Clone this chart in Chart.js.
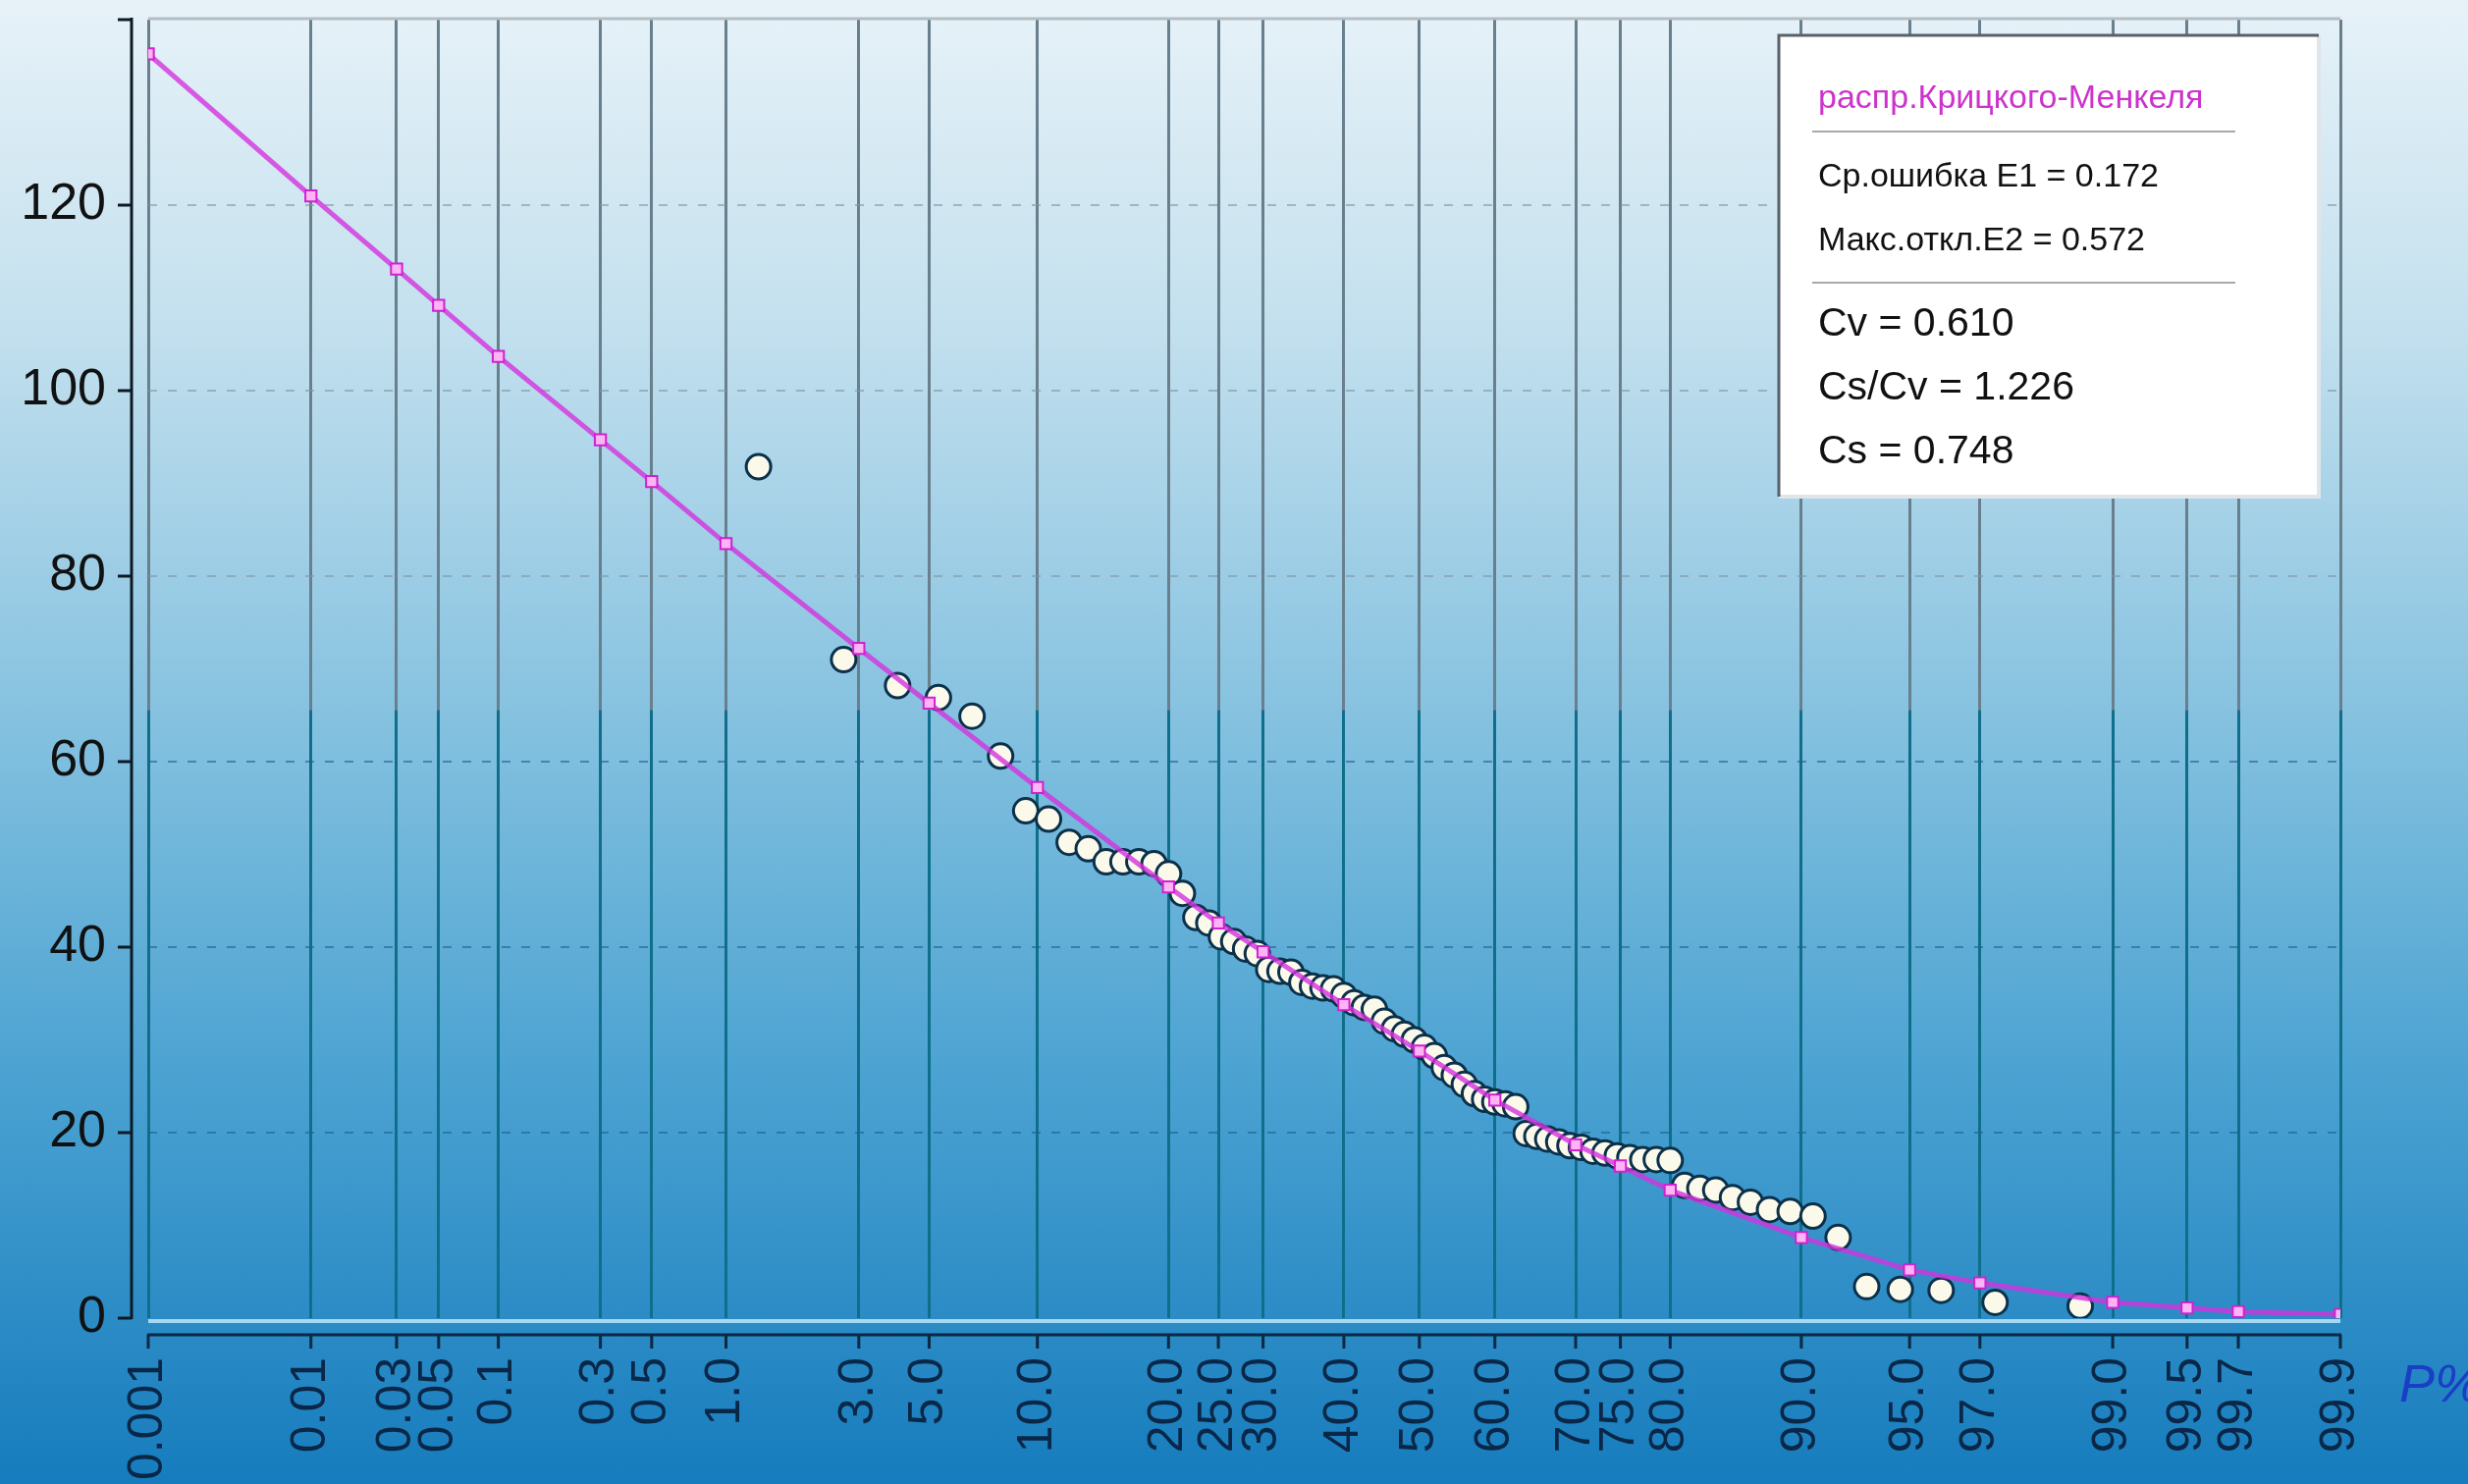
<!DOCTYPE html>
<html>
<head>
<meta charset="utf-8">
<script src="https://cdn.jsdelivr.net/npm/chart.js@4.4.1/dist/chart.umd.min.js"></script>
<style>
  html, body { margin: 0; padding: 0; overflow: hidden; background: #1a7fbf; }
  canvas { display: block; }
</style>
</head>
<body>
<canvas id="c" width="2514" height="1512"></canvas>
<script>
// ---------- DATA ----------
// Probability ticks (P%) and their labels
const tickP = [0.001, 0.01, 0.03, 0.05, 0.1, 0.3, 0.5, 1, 3, 5, 10, 20, 25, 30, 40, 50, 60, 70, 75, 80, 90, 95, 97, 99, 99.5, 99.7, 99.9];
const tickLabels = ['0.001', '0.01', '0.03', '0.05', '0.1', '0.3', '0.5', '1.0', '3.0', '5.0', '10.0', '20.0', '25.0', '30.0', '40.0', '50.0', '60.0', '70.0', '75.0', '80.0', '90.0', '95.0', '97.0', '99.0', '99.5', '99.7', '99.9'];
const yTicks = [0, 20, 40, 60, 80, 100, 120];

// Fitted curve (Kritsky-Menkel distribution)
const curveP = [0.001, 0.01, 0.03, 0.05, 0.1, 0.3, 0.5, 1, 3, 5, 10, 20, 25, 30, 40, 50, 60, 70, 75, 80, 90, 95, 97, 99, 99.5, 99.7, 99.9];
const curveQ = [136.3, 121.0, 113.1, 109.2, 103.7, 94.7, 90.2, 83.5, 72.2, 66.3, 57.2, 46.5, 42.6, 39.5, 33.8, 28.8, 23.5, 18.7, 16.4, 13.8, 8.7, 5.2, 3.8, 1.7, 1.1, 0.7, 0.4];

// Observed values (empirical probability P%, value)
const obsP = [1.33, 2.67, 4.00, 5.33, 6.67, 8.00, 9.33, 10.67, 12.00, 13.33,
  14.67, 16.00, 17.33, 18.67, 20.00, 21.33, 22.67, 24.00, 25.33, 26.67,
  28.00, 29.33, 30.67, 32.00, 33.33, 34.67, 36.00, 37.33, 38.67, 40.00,
  41.33, 42.67, 44.00, 45.33, 46.67, 48.00, 49.33, 50.67, 52.00, 53.33,
  54.67, 56.00, 57.33, 58.67, 60.00, 61.33, 62.67, 64.00, 65.33, 66.67,
  68.00, 69.33, 70.67, 72.00, 73.33, 74.67, 76.00, 77.33, 78.67, 80.00,
  81.33, 82.67, 84.00, 85.33, 86.67, 88.00, 89.33, 90.67, 92.00, 93.33,
  94.67, 96.00, 97.33, 98.67];
const obsQ = [91.8, 71.0, 68.2, 66.9, 64.9, 60.6, 54.7, 53.8, 51.3, 50.6,
  49.2, 49.2, 49.2, 49.0, 47.9, 45.8, 43.2, 42.6, 41.1, 40.6,
  39.8, 39.3, 37.6, 37.4, 37.3, 36.2, 35.8, 35.6, 35.5, 34.8,
  34.0, 33.5, 33.3, 32.0, 31.2, 30.6, 30.0, 29.2, 28.3, 27.0,
  26.2, 25.2, 24.2, 23.6, 23.3, 23.1, 22.8, 19.9, 19.6, 19.3,
  19.0, 18.6, 18.4, 18.0, 17.8, 17.5, 17.3, 17.1, 17.1, 17.0,
  14.3, 14.0, 13.8, 13.0, 12.5, 11.7, 11.5, 11.0, 8.7, 3.4,
  3.1, 3.0, 1.7, 1.3];

// Legend text
const legendTitle = 'распр.Крицкого-Менкеля';
const legendErr = ['Ср.ошибка E1 = 0.172', 'Макс.откл.E2 = 0.572'];
const legendPar = ['Cv = 0.610', 'Cs/Cv = 1.226', 'Cs = 0.748'];
const axisTitleX = 'P%';

// ---------- probability (normal) scale ----------
function probit(p) {
  const a = [-3.969683028665376e+01, 2.209460984245205e+02, -2.759285104469687e+02, 1.383577518672690e+02, -3.066479806614716e+01, 2.506628277459239e+00];
  const b = [-5.447609879822406e+01, 1.615858368580409e+02, -1.556989798598866e+02, 6.680131188771972e+01, -1.328068155288572e+01];
  const c = [-7.784894002430293e-03, -3.223964580411365e-01, -2.400758277161838e+00, -2.549732539343734e+00, 4.374664141464968e+00, 2.938163982698783e+00];
  const d = [7.784695709041462e-03, 3.224671290700398e-01, 2.445134137142996e+00, 3.754408661907416e+00];
  const pl = 0.02425, ph = 1 - pl;
  let q, r;
  if (p < pl) {
    q = Math.sqrt(-2 * Math.log(p));
    return (((((c[0]*q+c[1])*q+c[2])*q+c[3])*q+c[4])*q+c[5]) / ((((d[0]*q+d[1])*q+d[2])*q+d[3])*q+1);
  }
  if (p > ph) {
    q = Math.sqrt(-2 * Math.log(1 - p));
    return -(((((c[0]*q+c[1])*q+c[2])*q+c[3])*q+c[4])*q+c[5]) / ((((d[0]*q+d[1])*q+d[2])*q+d[3])*q+1);
  }
  q = p - 0.5; r = q * q;
  return (((((a[0]*r+a[1])*r+a[2])*r+a[3])*r+a[4])*r+a[5])*q / (((((b[0]*r+b[1])*r+b[2])*r+b[3])*r+b[4])*r+1);
}
function normCdf(z) {
  const t = 1 / (1 + 0.2316419 * Math.abs(z));
  const dd = 0.3989423 * Math.exp(-z * z / 2);
  let p = dd * t * (0.3193815 + t * (-0.3565638 + t * (1.781478 + t * (-1.821256 + t * 1.330274))));
  return z > 0 ? 1 - p : p;
}

class ProbabilityScale extends Chart.Scale {
  parse(raw) { return (raw === null || raw === undefined) ? null : +raw; }
  determineDataLimits() { this.min = this.options.min; this.max = this.options.max; }
  buildTicks() { return tickP.map(v => ({ value: v })); }
  getLabelForValue(v) { return String(v); }
  configure() {
    super.configure();
    this._zMin = probit(this.min / 100);
    this._zMax = probit(this.max / 100);
  }
  getPixelForValue(v) {
    return this.getPixelForDecimal((probit(v / 100) - this._zMin) / (this._zMax - this._zMin));
  }
  getValueForPixel(px) {
    const z = this._zMin + this.getDecimalForPixel(px) * (this._zMax - this._zMin);
    return normCdf(z) * 100;
  }
}
ProbabilityScale.id = 'probability';
ProbabilityScale.defaults = {};
Chart.register(ProbabilityScale);

// ---------- styling helpers ----------
const SPLIT = 723 / 1512;
const gradCache = {};
function splitGrad(chart, key, topCol, botCol) {
  if (gradCache[key]) return gradCache[key];
  const g = chart.ctx.createLinearGradient(0, 0, 0, chart.height);
  g.addColorStop(0, topCol);
  g.addColorStop(SPLIT, topCol);
  g.addColorStop(SPLIT + 0.001, botCol);
  g.addColorStop(1, botCol);
  gradCache[key] = g;
  return g;
}

const FONT = "'Liberation Sans', Arial, sans-serif";

const bgPlugin = {
  id: 'bg',
  beforeDraw(chart) {
    const ctx = chart.ctx;
    const g = ctx.createLinearGradient(0, 0, 0, chart.height);
    g.addColorStop(0, '#e7f2f8');
    g.addColorStop(0.22, '#c3e0ee');
    g.addColorStop(0.48, '#86c2e0');
    g.addColorStop(0.72, '#4ca3d2');
    g.addColorStop(1, '#167cbd');
    ctx.save();
    ctx.fillStyle = g;
    ctx.fillRect(0, 0, chart.width, chart.height);
    ctx.restore();
  }
};

const framePlugin = {
  id: 'frame',
  beforeDatasetsDraw(chart) {
    const ctx = chart.ctx, xs = chart.scales.x, ys = chart.scales.y;
    const left = xs.getPixelForValue(tickP[0]);
    const right = xs.getPixelForValue(tickP[tickP.length - 1]);
    const y0 = ys.getPixelForValue(0);
    const yTop = ys.getPixelForValue(140);
    ctx.save();
    ctx.strokeStyle = '#b3bec4';
    ctx.lineWidth = 3;
    ctx.beginPath(); ctx.moveTo(left, yTop - 1); ctx.lineTo(right, yTop - 1); ctx.stroke();
    ctx.strokeStyle = '#a6d8f2';
    ctx.lineWidth = 4;
    ctx.beginPath(); ctx.moveTo(left, y0 + 3); ctx.lineTo(right, y0 + 3); ctx.stroke();
    ctx.restore();
  },
  afterDraw(chart) {
    const ctx = chart.ctx, xs = chart.scales.x, ys = chart.scales.y;
    const left = xs.getPixelForValue(tickP[0]);
    const right = xs.getPixelForValue(tickP[tickP.length - 1]);
    const y0 = ys.getPixelForValue(0);
    const yTop = ys.getPixelForValue(140);
    ctx.save();
    // detached Y axis
    const ax = left - 17;
    ctx.strokeStyle = '#0d1a24';
    ctx.lineWidth = 3;
    ctx.beginPath(); ctx.moveTo(ax, yTop - 2); ctx.lineTo(ax, y0 + 1); ctx.stroke();
    for (const v of yTicks.concat([140])) {
      const py = ys.getPixelForValue(v);
      ctx.beginPath(); ctx.moveTo(ax - 14, py); ctx.lineTo(ax, py); ctx.stroke();
    }
    // detached X axis
    const ay = y0 + 17;
    ctx.strokeStyle = '#0b2844';
    ctx.beginPath(); ctx.moveTo(left - 1, ay); ctx.lineTo(right + 1, ay); ctx.stroke();
    for (const p of tickP) {
      const px = xs.getPixelForValue(p);
      ctx.beginPath(); ctx.moveTo(px, ay); ctx.lineTo(px, ay + 14); ctx.stroke();
    }
    // axis title P%
    ctx.fillStyle = '#1b3ec6';
    ctx.font = 'italic 54px ' + FONT;
    ctx.textBaseline = 'middle';
    ctx.textAlign = 'left';
    ctx.fillText(axisTitleX, right + 60, y0 + 70);

    // legend box
    const bx = 1812, by = 36, bw = 550, bh = 470;
    ctx.fillStyle = '#ffffff';
    ctx.fillRect(bx, by, bw, bh);
    ctx.lineWidth = 4;
    ctx.strokeStyle = '#dfe5e8';
    ctx.beginPath(); ctx.moveTo(bx + bw, by); ctx.lineTo(bx + bw, by + bh); ctx.lineTo(bx, by + bh); ctx.stroke();
    ctx.lineWidth = 3;
    ctx.strokeStyle = '#56616a';
    ctx.beginPath(); ctx.moveTo(bx, by + bh); ctx.lineTo(bx, by); ctx.lineTo(bx + bw, by); ctx.stroke();

    const tx = 1852;
    ctx.textAlign = 'left';
    ctx.textBaseline = 'middle';
    ctx.font = '34px ' + FONT;
    ctx.fillStyle = '#cc33cc';
    ctx.fillText(legendTitle, tx, 101);
    ctx.strokeStyle = '#a9a9a9';
    ctx.lineWidth = 2;
    ctx.beginPath(); ctx.moveTo(1846, 134); ctx.lineTo(2277, 134); ctx.stroke();
    ctx.fillStyle = '#111111';
    ctx.fillText(legendErr[0], tx, 181);
    ctx.fillText(legendErr[1], tx, 246);
    ctx.beginPath(); ctx.moveTo(1846, 288); ctx.lineTo(2277, 288); ctx.stroke();
    ctx.font = '41px ' + FONT;
    ctx.fillText(legendPar[0], tx, 331);
    ctx.fillText(legendPar[1], tx, 396);
    ctx.fillText(legendPar[2], tx, 461);
    ctx.restore();
  }
};

const curvePoints = curveP.map((p, i) => ({ x: p, y: curveQ[i] }));
const obsPoints = obsP.map((p, i) => ({ x: p, y: obsQ[i] }));

new Chart(document.getElementById('c'), {
  type: 'scatter',
  data: {
    datasets: [
      {
        type: 'line',
        label: legendTitle,
        data: curvePoints,
        borderColor: 'rgba(212, 50, 222, 0.8)',
        borderWidth: 5,
        tension: 0,
        fill: false,
        pointStyle: 'rect',
        pointRadius: 8,
        pointBackgroundColor: '#ffb2f6',
        pointBorderColor: '#cf22cf',
        pointBorderWidth: 2
      },
      {
        type: 'scatter',
        label: 'obs',
        data: obsPoints,
        pointStyle: 'circle',
        pointRadius: 12.5,
        pointBackgroundColor: '#fbfaea',
        pointBorderColor: '#0b3049',
        pointBorderWidth: 3
      }
    ]
  },
  options: {
    responsive: false,
    animation: false,
    devicePixelRatio: 1,
    layout: { padding: { top: 20, right: 130, left: 0, bottom: 0 } },
    plugins: { legend: { display: false }, tooltip: { enabled: false } },
    scales: {
      x: {
        type: 'probability',
        position: 'bottom',
        min: 0.001,
        max: 99.9,
        afterFit: s => { s.height = 169; s.paddingLeft = 0; s.paddingRight = 0; },
        border: { display: false },
        grid: {
          drawTicks: false,
          lineWidth: 3,
          color: ctx => splitGrad(ctx.chart, 'v', '#687f8d', '#0f6f8b')
        },
        ticks: {
          autoSkip: false,
          minRotation: 90,
          maxRotation: 90,
          padding: 40,
          color: '#0a2748',
          font: { family: FONT, size: 50 },
          callback: (v, i) => tickLabels[i]
        }
      },
      y: {
        type: 'linear',
        position: 'left',
        min: 0,
        max: 140,
        afterFit: s => { s.width = 151; s.paddingTop = 0; s.paddingBottom = 0; },
        border: { display: false, dash: [9, 11] },
        grid: {
          drawTicks: false,
          lineWidth: 2,
          color: ctx => (ctx.tick && (ctx.tick.value === 0 || ctx.tick.value === 140))
            ? 'rgba(0,0,0,0)'
            : splitGrad(ctx.chart, 'h', 'rgba(125,150,165,0.6)', 'rgba(30,95,140,0.6)')
        },
        ticks: {
          stepSize: 20,
          padding: 43,
          color: '#111111',
          font: { family: FONT, size: 52 },
          callback: v => (yTicks.includes(v) ? String(v) : '')
        }
      }
    }
  },
  plugins: [bgPlugin, framePlugin]
});
</script>
</body>
</html>
